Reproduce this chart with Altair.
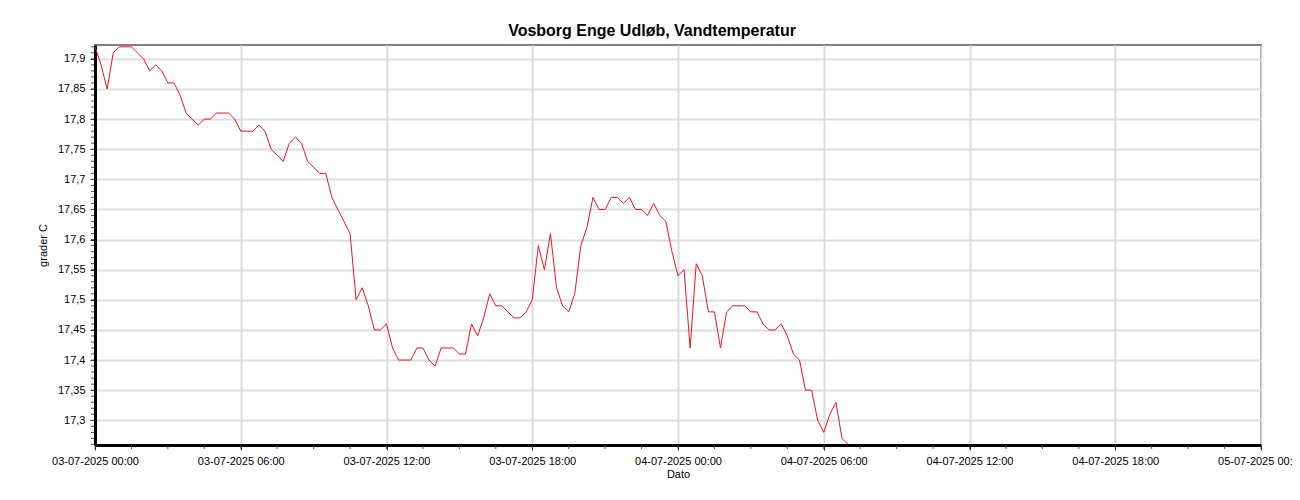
import altair as alt
import pandas as pd

# Water temperature readings (grader C), every 15 minutes from 03-07-2025 00:00
temps = [
    17.92, 17.89, 17.85, 17.91, 17.92, 17.92, 17.92, 17.91, 17.90, 17.88,
    17.89, 17.88, 17.86, 17.86, 17.84, 17.81, 17.80, 17.79, 17.80, 17.80,
    17.81, 17.81, 17.81, 17.80, 17.78, 17.78, 17.78, 17.79, 17.78, 17.75,
    17.74, 17.73, 17.76, 17.77, 17.76, 17.73, 17.72, 17.71, 17.71, 17.67,
    17.65, 17.63, 17.61, 17.50, 17.52, 17.49, 17.45, 17.45, 17.46, 17.42,
    17.40, 17.40, 17.40, 17.42, 17.42, 17.40, 17.39, 17.42, 17.42, 17.42,
    17.41, 17.41, 17.46, 17.44, 17.47, 17.51, 17.49, 17.49, 17.48, 17.47,
    17.47, 17.48, 17.50, 17.59, 17.55, 17.61, 17.52, 17.49, 17.48, 17.51,
    17.59, 17.62, 17.67, 17.65, 17.65, 17.67, 17.67, 17.66, 17.67, 17.65,
    17.65, 17.64, 17.66, 17.64, 17.63, 17.58, 17.54, 17.55, 17.42, 17.56,
    17.54, 17.48, 17.48, 17.42, 17.48, 17.49, 17.49, 17.49, 17.48, 17.48,
    17.46, 17.45, 17.45, 17.46, 17.44, 17.41, 17.40, 17.35, 17.35, 17.30,
    17.28, 17.31, 17.33, 17.27, 17.26,
]
times = [t.strftime("%Y-%m-%dT%H:%M:%SZ")
         for t in pd.date_range("2025-07-03 00:00", periods=len(temps), freq="15min")]

y_major = [17.3, 17.35, 17.4, 17.45, 17.5, 17.55, 17.6, 17.65, 17.7, 17.75, 17.8, 17.85, 17.9]
y_minor = [round(17.26 + 0.01 * k, 2) for k in range(67)]
x_major_times = [t.strftime("%Y-%m-%dT%H:%M:%SZ")
                 for t in pd.date_range("2025-07-03 00:00", "2025-07-05 00:00", freq="6h")]
x_minor_times = [t.strftime("%Y-%m-%dT%H:%M:%SZ")
                 for t in pd.date_range("2025-07-03 00:00", "2025-07-05 00:00", freq="90min")]

x_major_ms = [int(pd.Timestamp(t).value // 10**6) for t in x_major_times]
x_domain = [int(pd.Timestamp("2025-07-03T00:00:00Z").value // 10**6),
            int(pd.Timestamp("2025-07-05T00:00:00Z").value // 10**6)]
y_domain = [17.259, 17.923]

df = pd.DataFrame({"Dato": times, "temp": temps})
df_yminor = pd.DataFrame({"v": y_minor})
df_xminor = pd.DataFrame({"t": x_minor_times})

FONT = "Liberation Sans"
xscale = alt.Scale(type="utc", domain=x_domain)
yscale = alt.Scale(domain=y_domain, nice=False, zero=False)

line = alt.Chart(df).mark_line(color="#e8161b", strokeWidth=1, clip=True).encode(
    x=alt.X("Dato:T", scale=xscale,
            axis=alt.Axis(title="Dato", values=x_major_ms, format="%d-%m-%Y %H:%M",
                          labelFont=FONT, labelFontSize=11, labelColor="black",
                          titleFont=FONT, titleFontSize=11, titleFontWeight="normal",
                          titleColor="black", titlePadding=2,
                          tickSize=5, tickColor="#222222", labelPadding=5,
                          domainColor="black", domainWidth=3,
                          grid=True, gridColor="#dcdcdc", gridWidth=2,
                          labelFlush=False, labelOverlap=False)),
    y=alt.Y("temp:Q", scale=yscale,
            axis=alt.Axis(title="grader C", values=y_major,
                          labelExpr="replace(format(datum.value, '.2~f'), '.', ',')",
                          labelFont=FONT, labelFontSize=11, labelColor="black",
                          titleFont=FONT, titleFontSize=11, titleFontWeight="normal",
                          titleColor="black", titlePadding=9,
                          tickSize=5, tickColor="#222222", labelPadding=5,
                          domainColor="black", domainWidth=3,
                          grid=True, gridColor="#dcdcdc", gridWidth=2,
                          labelFlush=False, labelOverlap=False)),
)

yminor = alt.Chart(df_yminor).mark_rule(color="#555555", strokeWidth=1).encode(
    y=alt.Y("v:Q", scale=yscale, axis=None),
    x=alt.value(-4), x2=alt.value(-1),
)

xminor = alt.Chart(df_xminor).mark_rule(color="#555555", strokeWidth=1).encode(
    x=alt.X("t:T", scale=xscale, axis=None),
    y=alt.value(401), y2=alt.value(404),
)

chart = alt.layer(line, yminor, xminor).resolve_axis(
    x="independent", y="independent"
).properties(
    width=1166, height=400,
    autosize=alt.AutoSizeParams(type="none"),
    padding={"left": 87, "top": 37, "right": 31, "bottom": 50},
    title=alt.TitleParams("Vosborg Enge Udløb, Vandtemperatur", font=FONT, fontSize=16,
                          fontWeight="bold", color="black", anchor="middle",
                          dx=-26, offset=6),
).configure_view(stroke="#808080", strokeWidth=2)

chart.save("out.html", embed_options={"renderer": "svg", "actions": False})
